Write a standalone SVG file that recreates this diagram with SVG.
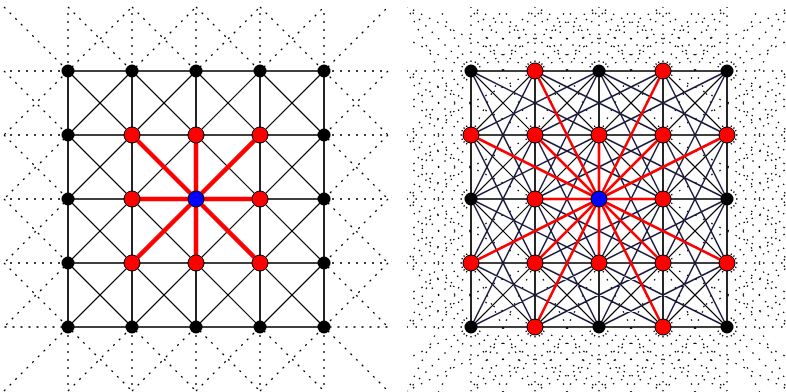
<svg xmlns="http://www.w3.org/2000/svg" width="786" height="392" viewBox="0 0 786 392">
<style>
.dot{fill:none;stroke:#000;stroke-width:1.3;stroke-dasharray:2 6}
.dotR{fill:none;stroke:#000;stroke-width:1.3;stroke-dasharray:1.5 7.5}
.grid{fill:none;stroke:#000;stroke-width:1.7}
.diag{fill:none;stroke:#000;stroke-width:1.2}
.knight{fill:none;stroke:#1a1a40;stroke-width:1.5}
.redL{fill:none;stroke:#f00;stroke-width:4.5}
.redR{fill:none;stroke:#f00;stroke-width:2.6}
.b{fill:#000}
.r{fill:#f00;stroke:#000;stroke-width:1}
.c{fill:#00f;stroke:#000;stroke-width:1}
</style>
<defs>
<clipPath id="clipR"><rect x="407" y="7" width="384" height="385"/></clipPath>
</defs>
<rect width="786" height="392" fill="#fff"/>
<g id="connectors">
<g id="left-connectors">
<path class="dot" d="M4 7L68 71L132 7M68 71V7M68 7L132 71L196 7M132 71V7M132 7L196 71L260 7M196 71V7M196 7L260 71L324 7M260 71V7M260 7L324 71L388 7M324 71V7
M4 391L68 327L132 391M68 327V391M68 391L132 327L196 391M132 327V391M132 391L196 327L260 391M196 327V391M196 391L260 327L324 391M260 327V391M260 391L324 327L388 391M324 327V391
M68 71L4 135M68 71H4M4 71L68 135L4 199M68 135H4M4 135L68 199L4 263M68 199H4M4 199L68 263L4 327M68 263H4M4 263L68 327H4
M324 71L388 135M324 71H388M388 71L324 135L388 199M324 135H388M388 135L324 199L388 263M324 199H388M388 199L324 263L388 327M324 263H388M388 263L324 327H388"/>
<path class="grid" d="M68 71H324M68 135H324M68 199H324M68 263H324M68 327H324M68 71V327M132 71V327M196 71V327M260 71V327M324 71V327"/>
<path class="diag" d="M68 263l64 64M68 199l128 128M68 135l192 192M68 71l256 256M132 71l192 192M196 71l128 128M260 71l64 64M132 71l-64 64M196 71l-128 128M260 71l-192 192M324 71l-256 256M324 135l-192 192M324 199l-128 128M324 263l-64 64"/>
<path class="redL" d="M196 199L132 135M196 199L196 135M196 199L260 135M196 199L132 199M196 199L260 199M196 199L132 263M196 199L196 263M196 199L260 263"/>
</g>
<g id="right-connectors">
<g clip-path="url(#clipR)">
<path class="dotR" d="M471 71v-64M535 71v-64M599 71v-64M663 71v-64M727 71v-64
M471 327v64M535 327v64M599 327v64M663 327v64M727 327v64
M471 71h-64M471 135h-64M471 199h-64M471 263h-64M471 327h-64
M727 71h64M727 135h64M727 199h64M727 263h64M727 327h64
M471 71l-64 -64M535 71l-64 -64M599 71l-64 -64M663 71l-64 -64M727 71l-64 -64M471 135l-64 -64M471 199l-64 -64M471 263l-64 -64M471 327l-64 -64
M471 71l64 -64M535 71l64 -64M599 71l64 -64M663 71l64 -64M727 71l64 -64M727 135l64 -64M727 199l64 -64M727 263l64 -64M727 327l64 -64
M471 327l-64 64M535 327l-64 64M599 327l-64 64M663 327l-64 64M727 327l-64 64M471 71l-64 64M471 135l-64 64M471 199l-64 64M471 263l-64 64
M471 327l64 64M535 327l64 64M599 327l64 64M663 327l64 64M727 327l64 64M727 71l64 64M727 135l64 64M727 199l64 64M727 263l64 64
M471 71l-64 -128M535 71l-64 -128M599 71l-64 -128M663 71l-64 -128M727 71l-64 -128M471 135l-64 -128M535 135l-64 -128M599 135l-64 -128M663 135l-64 -128M727 135l-64 -128M471 199l-64 -128M471 263l-64 -128M471 327l-64 -128
M471 71l64 -128M535 71l64 -128M599 71l64 -128M663 71l64 -128M727 71l64 -128M471 135l64 -128M535 135l64 -128M599 135l64 -128M663 135l64 -128M727 135l64 -128M727 199l64 -128M727 263l64 -128M727 327l64 -128
M471 263l-64 128M535 263l-64 128M599 263l-64 128M663 263l-64 128M727 263l-64 128M471 327l-64 128M535 327l-64 128M599 327l-64 128M663 327l-64 128M727 327l-64 128M471 71l-64 128M471 135l-64 128M471 199l-64 128
M471 263l64 128M535 263l64 128M599 263l64 128M663 263l64 128M727 263l64 128M471 327l64 128M535 327l64 128M599 327l64 128M663 327l64 128M727 327l64 128M727 71l64 128M727 135l64 128M727 199l64 128
M471 71l-128 -64M471 135l-128 -64M471 199l-128 -64M471 263l-128 -64M471 327l-128 -64M535 71l-128 -64M535 135l-128 -64M535 199l-128 -64M535 263l-128 -64M535 327l-128 -64M599 71l-128 -64M663 71l-128 -64M727 71l-128 -64
M471 71l-128 64M471 135l-128 64M471 199l-128 64M471 263l-128 64M471 327l-128 64M535 71l-128 64M535 135l-128 64M535 199l-128 64M535 263l-128 64M535 327l-128 64M599 327l-128 64M663 327l-128 64M727 327l-128 64
M663 71l128 -64M663 135l128 -64M663 199l128 -64M663 263l128 -64M663 327l128 -64M727 71l128 -64M727 135l128 -64M727 199l128 -64M727 263l128 -64M727 327l128 -64M471 71l128 -64M535 71l128 -64M599 71l128 -64
M663 71l128 64M663 135l128 64M663 199l128 64M663 263l128 64M663 327l128 64M727 71l128 64M727 135l128 64M727 199l128 64M727 263l128 64M727 327l128 64M471 327l128 64M535 327l128 64M599 327l128 64"/>
</g>
<path class="grid" d="M471 71H727M471 135H727M471 199H727M471 263H727M471 327H727M471 71V327M535 71V327M599 71V327M663 71V327M727 71V327"/>
<path class="diag" d="M471 263l64 64M471 199l128 128M471 135l192 192M471 71l256 256M535 71l192 192M599 71l128 128M663 71l64 64M535 71l-64 64M599 71l-128 128M663 71l-192 192M727 71l-256 256M727 135l-192 192M727 199l-128 128M727 263l-64 64"/>
<path class="knight" d="M471 71l64 128M535 71l64 128M599 71l64 128M663 71l64 128M471 135l64 128M535 135l64 128M599 135l64 128M663 135l64 128M471 199l64 128M535 199l64 128M599 199l64 128M663 199l64 128
M535 71l-64 128M599 71l-64 128M663 71l-64 128M727 71l-64 128M535 135l-64 128M599 135l-64 128M663 135l-64 128M727 135l-64 128M535 199l-64 128M599 199l-64 128M663 199l-64 128M727 199l-64 128
M471 71l128 64M535 71l128 64M599 71l128 64M471 135l128 64M535 135l128 64M599 135l128 64M471 199l128 64M535 199l128 64M599 199l128 64M471 263l128 64M535 263l128 64M599 263l128 64
M599 71l-128 64M663 71l-128 64M727 71l-128 64M599 135l-128 64M663 135l-128 64M727 135l-128 64M599 199l-128 64M663 199l-128 64M727 199l-128 64M599 263l-128 64M663 263l-128 64M727 263l-128 64"/>
<path class="redR" d="M599 199L535 135M599 199L599 135M599 199L663 135M599 199L535 199M599 199L663 199M599 199L535 263M599 199L599 263M599 199L663 263M599 199L535 71M599 199L663 71M599 199L471 135M599 199L727 135M599 199L471 263M599 199L727 263M599 199L535 327M599 199L663 327"/>
</g>
</g>
<g id="left-nodes">
<g id="L00"><circle class="b" cx="68" cy="71" r="6.5"/></g>
<g id="L10"><circle class="b" cx="132" cy="71" r="6.5"/></g>
<g id="L20"><circle class="b" cx="196" cy="71" r="6.5"/></g>
<g id="L30"><circle class="b" cx="260" cy="71" r="6.5"/></g>
<g id="L40"><circle class="b" cx="324" cy="71" r="6.5"/></g>
<g id="L01"><circle class="b" cx="68" cy="135" r="6.5"/></g>
<g id="L11"><circle class="r" cx="132" cy="135" r="8"/></g>
<g id="L21"><circle class="r" cx="196" cy="135" r="8"/></g>
<g id="L31"><circle class="r" cx="260" cy="135" r="8"/></g>
<g id="L41"><circle class="b" cx="324" cy="135" r="6.5"/></g>
<g id="L02"><circle class="b" cx="68" cy="199" r="6.5"/></g>
<g id="L12"><circle class="r" cx="132" cy="199" r="8"/></g>
<g id="L22"><circle class="c" cx="196" cy="199" r="8"/></g>
<g id="L32"><circle class="r" cx="260" cy="199" r="8"/></g>
<g id="L42"><circle class="b" cx="324" cy="199" r="6.5"/></g>
<g id="L03"><circle class="b" cx="68" cy="263" r="6.5"/></g>
<g id="L13"><circle class="r" cx="132" cy="263" r="8"/></g>
<g id="L23"><circle class="r" cx="196" cy="263" r="8"/></g>
<g id="L33"><circle class="r" cx="260" cy="263" r="8"/></g>
<g id="L43"><circle class="b" cx="324" cy="263" r="6.5"/></g>
<g id="L04"><circle class="b" cx="68" cy="327" r="6.5"/></g>
<g id="L14"><circle class="b" cx="132" cy="327" r="6.5"/></g>
<g id="L24"><circle class="b" cx="196" cy="327" r="6.5"/></g>
<g id="L34"><circle class="b" cx="260" cy="327" r="6.5"/></g>
<g id="L44"><circle class="b" cx="324" cy="327" r="6.5"/></g>
</g>
<g id="right-nodes">
<g id="R00"><circle class="b" cx="471" cy="71" r="6.5"/></g>
<g id="R10"><circle class="r" cx="535" cy="71" r="8"/></g>
<g id="R20"><circle class="b" cx="599" cy="71" r="6.5"/></g>
<g id="R30"><circle class="r" cx="663" cy="71" r="8"/></g>
<g id="R40"><circle class="b" cx="727" cy="71" r="6.5"/></g>
<g id="R01"><circle class="r" cx="471" cy="135" r="8"/></g>
<g id="R11"><circle class="r" cx="535" cy="135" r="8"/></g>
<g id="R21"><circle class="r" cx="599" cy="135" r="8"/></g>
<g id="R31"><circle class="r" cx="663" cy="135" r="8"/></g>
<g id="R41"><circle class="r" cx="727" cy="135" r="8"/></g>
<g id="R02"><circle class="b" cx="471" cy="199" r="6.5"/></g>
<g id="R12"><circle class="r" cx="535" cy="199" r="8"/></g>
<g id="R22"><circle class="c" cx="599" cy="199" r="8"/></g>
<g id="R32"><circle class="r" cx="663" cy="199" r="8"/></g>
<g id="R42"><circle class="b" cx="727" cy="199" r="6.5"/></g>
<g id="R03"><circle class="r" cx="471" cy="263" r="8"/></g>
<g id="R13"><circle class="r" cx="535" cy="263" r="8"/></g>
<g id="R23"><circle class="r" cx="599" cy="263" r="8"/></g>
<g id="R33"><circle class="r" cx="663" cy="263" r="8"/></g>
<g id="R43"><circle class="r" cx="727" cy="263" r="8"/></g>
<g id="R04"><circle class="b" cx="471" cy="327" r="6.5"/></g>
<g id="R14"><circle class="r" cx="535" cy="327" r="8"/></g>
<g id="R24"><circle class="b" cx="599" cy="327" r="6.5"/></g>
<g id="R34"><circle class="r" cx="663" cy="327" r="8"/></g>
<g id="R44"><circle class="b" cx="727" cy="327" r="6.5"/></g>
</g>
</svg>
